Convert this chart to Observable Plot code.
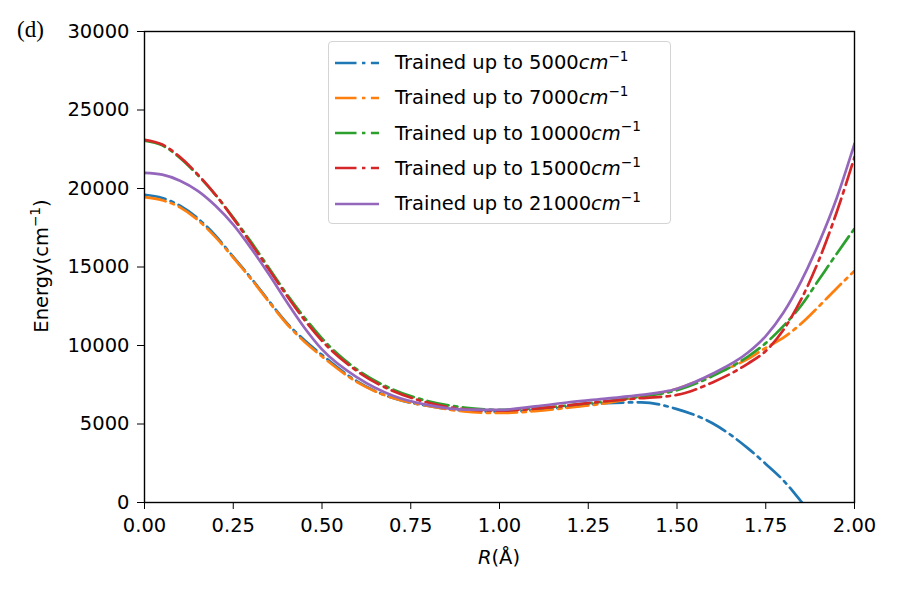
<!DOCTYPE html>
<html>
<head>
<meta charset="utf-8">
<script src="https://cdn.jsdelivr.net/npm/d3@7"></script>
<script src="https://cdn.jsdelivr.net/npm/@observablehq/plot@0.6"></script>
<style>
  body { margin: 0; background: #fff; }
  #wrap { position: relative; width: 900px; height: 600px; font-family: "DejaVu Sans", sans-serif; color: #000; }
  #panel { position: absolute; left: 17px; top: 17px; font-family: "Liberation Serif", "DejaVu Serif", serif; font-size: 23px; }
  #ylab { position: absolute; left: 41px; top: 266px; transform: translate(-50%, -50%) rotate(-90deg); font-size: 19.5px; white-space: nowrap; }
  #xlab { position: absolute; left: 499px; top: 557px; transform: translate(-50%, -50%); font-size: 19.5px; white-space: nowrap; }
  sup { font-size: 70%; vertical-align: 0; position: relative; top: -0.6em; }
  .legend { position: absolute; left: 328px; top: 41px; width: 343px; height: 183px; box-sizing: border-box;
            border: 1.3px solid #d4d4d4; border-radius: 4px; background: rgba(255,255,255,0.8); }
  .row { position: absolute; left: 6px; height: 35px; display: flex; align-items: center; font-size: 19.5px; white-space: nowrap; }
  .row svg { width: 44px; height: 6px; margin-right: 16px; }
</style>
</head>
<body>
<div id="wrap"></div>
<script>
// Separation R (Å) at which each model's energy is sampled
const radius = [0, 0.05, 0.1, 0.15, 0.2, 0.25, 0.3, 0.35, 0.4, 0.45, 0.5,
                0.6, 0.7, 0.8, 0.9, 1.0, 1.1, 1.2, 1.3, 1.4, 1.5, 1.6,
                1.7, 1.75, 1.8, 1.85, 1.9, 1.95, 2.0];

// Energy (cm^-1) for each training cutoff
const e5000  = [19600, 19400, 18900, 18100, 17000, 15650, 14300, 12850, 11450, 10350, 9400,
                7700, 6650, 6150, 5850, 5780, 5880, 6100, 6330, 6380, 5950, 5050,
                3450, 2460, 1400, 60, -1300, -2800, -4500];
const e7000  = [19450, 19250, 18800, 18000, 16900, 15600, 14250, 12800, 11400, 10250, 9300,
                7650, 6650, 6150, 5800, 5700, 5820, 6050, 6330, 6750, 7250, 8150,
                9150, 9850, 10500, 11400, 12500, 13650, 14750];
const e10000 = [23050, 22750, 21950, 20850, 19600, 18150, 16600, 14950, 13300, 11800, 10450,
                8450, 7200, 6450, 6050, 5900, 6000, 6200, 6450, 6750, 7150, 8050,
                9300, 10150, 11250, 12550, 14200, 15850, 17450];
const e15000 = [23100, 22800, 22000, 20900, 19600, 18100, 16500, 14850, 13200, 11650, 10300,
                8350, 7100, 6350, 5950, 5850, 5970, 6200, 6450, 6650, 6850, 7650,
                8850, 9650, 11000, 12950, 15450, 18500, 22000];
const e21000 = [21000, 20880, 20500, 19850, 18900, 17700, 16200, 14550, 12800, 11150, 9750,
                7950, 6800, 6200, 5920, 5900, 6120, 6400, 6620, 6850, 7250, 8200,
                9550, 10600, 12100, 14100, 16550, 19400, 22850];

const cutoffs = ["5000", "7000", "10000", "15000", "21000"];
const energies = [e5000, e7000, e10000, e15000, e21000];
const colors = ["#1f77b4", "#ff7f0e", "#2ca02c", "#d62728", "#9467bd"];
const dashes = ["21.5,5.5,3.4,5.5", "21.5,5.5,3.4,5.5", "21.5,5.5,3.4,5.5", "21.5,5.5,3.4,5.5", null];

const xTicks = [0, 0.25, 0.5, 0.75, 1.0, 1.25, 1.5, 1.75, 2.0];
const yTicks = [0, 5000, 10000, 15000, 20000, 25000, 30000];

const lines = energies.map((vals, i) => {
  const rows = radius.map((r, j) => ({r, e: vals[j]}));
  return Plot.line(rows, {
    x: "r", y: "e", stroke: colors[i], strokeWidth: 2.7,
    strokeDasharray: dashes[i] || undefined, curve: "monotone-x", clip: true
  });
});

const chart = Plot.plot({
  width: 900, height: 600,
  marginLeft: 144, marginRight: 46, marginTop: 31, marginBottom: 98,
  style: { fontFamily: "DejaVu Sans", fontSize: "19.5px", color: "#000", background: "transparent" },
  x: { domain: [0, 2], ticks: xTicks, tickFormat: d3.format(".2f"), tickSize: 7, tickPadding: 9, label: null },
  y: { domain: [0, 30000], ticks: yTicks, tickFormat: d => String(d), tickSize: 7, tickPadding: 8, label: null },
  marks: [
    ...lines,
    Plot.frame({ stroke: "#000", strokeWidth: 1.4 })
  ]
});

const wrap = document.getElementById("wrap");
wrap.appendChild(chart);

// Panel tag and axis titles
wrap.insertAdjacentHTML("beforeend",
  `<div id="panel">(d)</div>
   <div id="ylab">Energy(cm<sup>−1</sup>)</div>
   <div id="xlab"><i>R</i>(Å)</div>`);

// Legend box
const legend = document.createElement("div");
legend.className = "legend";
cutoffs.forEach((c, i) => {
  const row = document.createElement("div");
  row.className = "row";
  row.style.top = (3 + i * 35.3) + "px";
  row.innerHTML =
    `<svg viewBox="0 0 44 6"><line x1="0" x2="44" y1="3" y2="3" stroke="${colors[i]}" stroke-width="2.7"` +
    (dashes[i] ? ` stroke-dasharray="${dashes[i]}"` : "") + `/></svg>` +
    `<span>Trained up to ${c}<i>cm</i><sup>−1</sup></span>`;
  legend.appendChild(row);
});
wrap.appendChild(legend);
</script>
</body>
</html>
